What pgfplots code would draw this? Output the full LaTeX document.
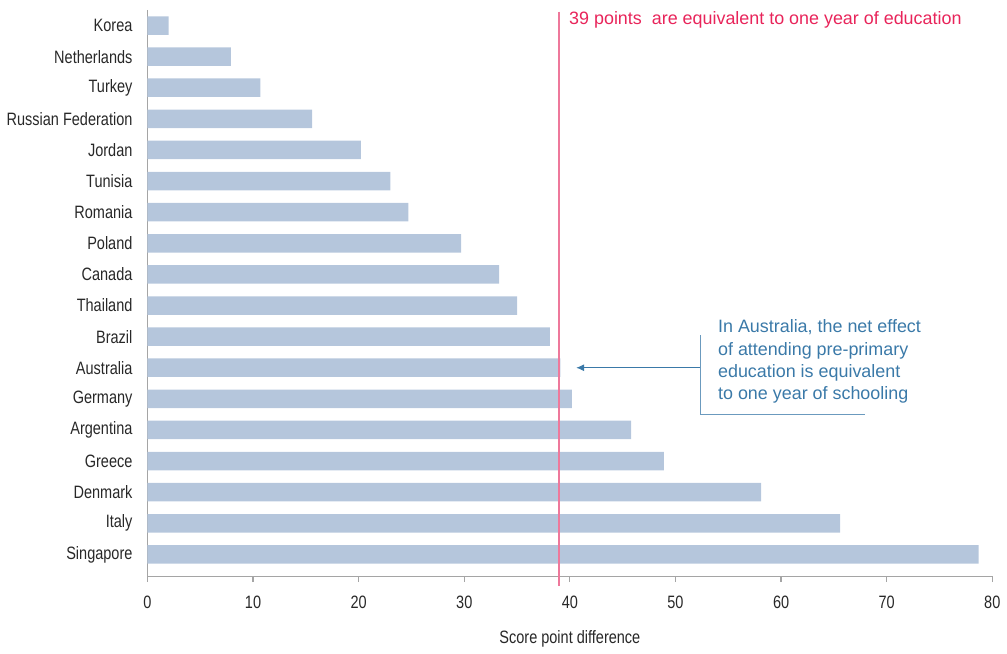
\documentclass[border=0pt]{standalone}
\usepackage{fontspec}
\setmainfont{Liberation Sans}[FakeStretch=0.81]
\newfontfamily\widefont{Liberation Sans}
\usepackage{pgfplots}
\pgfplotsset{compat=1.18}
\usetikzlibrary{arrows.meta}
\definecolor{barblue}{RGB}{181,198,220}
\definecolor{axgray}{RGB}{165,165,165}
\definecolor{refline}{RGB}{238,120,155}
\definecolor{reftext}{RGB}{232,36,90}
\definecolor{notetext}{RGB}{58,121,168}
\definecolor{labgray}{RGB}{40,40,40}

\begin{document}
\begin{tikzpicture}
\begin{axis}[
  name=ax,
  scale only axis,
  width=424.5pt, height=284.5pt,
  xbar, bar width=9.3pt,
  xmin=0, xmax=80, ymin=-0.5, ymax=17.7,
  y dir=reverse,
  axis x line*=bottom, axis y line*=left,
  axis line style={axgray, line width=0.6pt},
  xtick={0,10,...,80},
  ytick={0,...,17},
  yticklabels={Korea,Netherlands,Turkey,Russian Federation,Jordan,Tunisia,Romania,Poland,Canada,Thailand,Brazil,Australia,Germany,Argentina,Greece,Denmark,Italy,Singapore},
  y tick style={draw=none},
  x tick style={axgray, line width=0.6pt},
  tick align=outside,
  major tick length=3pt,
  xtick pos=bottom,
  /pgf/number format/assume math mode=true,
  tick label style={font=\fontsize{9}{10}\selectfont, text=labgray},
  xticklabel style={yshift=-3.5pt},
  yticklabel style={xshift=-1pt},
  xlabel={Score point difference},
  xlabel style={font=\fontsize{9}{10}\selectfont, text=labgray, yshift=-4pt},
  clip=false,
]
\addplot[draw=none, fill=barblue] coordinates {
  (2.0,0) (7.9,1) (10.7,2) (15.6,3) (20.2,4) (23.0,5) (24.7,6) (29.7,7)
  (33.3,8) (35.0,9) (38.1,10) (39.1,11) (40.2,12) (45.8,13) (48.9,14)
  (58.1,15) (65.6,16) (78.7,17)
};
\draw[draw=refline, line width=1pt] (axis cs:39,-0.45) -- (axis cs:39,18.0);
\node[anchor=west, text=reftext, font=\widefont\fontsize{9}{10}\selectfont, inner sep=0pt]
  at (axis cs:39.9,-0.19) {39 points\ \ are equivalent to one year of education};
\draw[draw=notetext, line width=0.5pt, -{Latex[length=4pt,width=3.5pt]}]
  (axis cs:52.4,11) -- (axis cs:40.6,11);
\draw[draw=notetext!75, line width=0.5pt] (axis cs:52.4,9.96) -- (axis cs:52.4,12.5) -- (axis cs:67.9,12.5);
\node[anchor=west, align=left, text=notetext, inner sep=0pt,
  font=\widefont\fontsize{9}{11.2}\selectfont]
  at (axis cs:54.0,10.8) {In Australia, the net effect\\of attending pre-primary\\education is equivalent\\to one year of schooling};
\end{axis}
\path ([yshift=5pt]ax.north west) ([xshift=6pt]ax.north east);
\end{tikzpicture}
\end{document}
